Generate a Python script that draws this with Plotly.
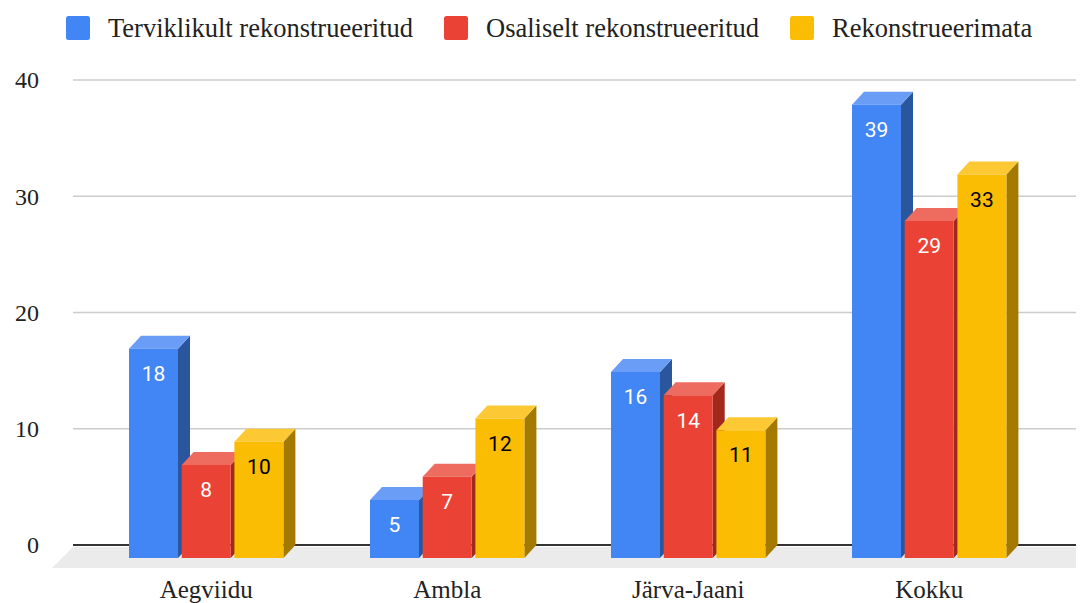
import plotly.graph_objects as go

# ---------------- data ----------------
categories = ["Aegviidu", "Ambla", "Järva-Jaani", "Kokku"]
series_names = ["Terviklikult rekonstrueeritud", "Osaliselt rekonstrueeritud", "Rekonstrueerimata"]
terviklikult = [18, 5, 16, 39]
osaliselt = [8, 7, 14, 29]
rekonstrueerimata = [10, 12, 11, 33]
y_tick_values = [0, 10, 20, 30, 40]
y_tick_labels = ["0", "10", "20", "30", "40"]

series_values = [terviklikult, osaliselt, rekonstrueerimata]

# ---------------- style ----------------
front_colors = ["#4285F4", "#EA4335", "#FBBC04"]
top_colors = ["#6A9EF6", "#EE6B5F", "#FCC834"]
side_colors = ["#2A569E", "#A3281C", "#A37900"]
label_colors = ["#FFFFFF", "#FFFFFF", "#000000"]

PAGE_OFF = 8                      # body margin of the html page
W, H = 1084 - PAGE_OFF, 603 - PAGE_OFF
# plot area in screen pixels
PL_S, PT_S, PB_S = 52, 60, 570
L = PL_S - PAGE_OFF
T = PT_S - PAGE_OFF
B = H - (PB_S - PAGE_OFF)
R = 0
plot_w = W - L - R
plot_h = H - T - B

PX_PER_CAT = 241.0
PX_PER_UNIT = 11.625
X0_PX = 206.2   # screen x of first category (front group centre)
Y0_PX = 545.0   # screen y of value 0 on the back plane

xmin = (PL_S - X0_PX) / PX_PER_CAT
xmax = xmin + plot_w / PX_PER_CAT
ymin = -(PB_S - Y0_PX) / PX_PER_UNIT
ymax = (Y0_PX - PT_S) / PX_PER_UNIT


def xd(px):
    return (px - X0_PX) / PX_PER_CAT


def yd(py):
    return (Y0_PX - py) / PX_PER_UNIT


def xp(px):
    return (px - PL_S) / plot_w


def yp(py):
    return (PB_S - py) / plot_h


BW = 49 / PX_PER_CAT          # bar width
STEP = 52.7 / PX_PER_CAT      # bar step within a group
DX = 12 / PX_PER_CAT          # depth offset x
DY = 13 / PX_PER_UNIT         # depth offset y
offsets = [-STEP, 0.0, STEP]


def poly(pts):
    return "M " + " L ".join(f"{a},{b}" for a, b in pts) + " Z"


fig = go.Figure()
shapes = []

# floor
shapes.append(dict(type="path", xref="x", yref="y", layer="below",
                   path=poly([(xd(73), yd(547)), (xd(1097), yd(547)),
                              (xd(1076), yd(568)), (xd(52), yd(568))]),
                   fillcolor="#EBEBEB", line=dict(width=0)))
# gridlines on back plane
for v in y_tick_values:
    shapes.append(dict(type="line", xref="x", yref="y", layer="below",
                       x0=xd(73), x1=xmax + 1, y0=v, y1=v,
                       line=dict(color="#333333" if v == 0 else "#CCCCCC",
                                 width=2 if v == 0 else 1.5)))

# 3D faces (side + top) per bar, in drawing order
for i in range(len(categories)):
    for j in range(3):
        v = series_values[j][i]
        xl = i + offsets[j] - BW / 2
        xr = i + offsets[j] + BW / 2
        b = -DY
        t = v - DY
        shapes.append(dict(type="path", xref="x", yref="y", layer="between",
                           path=poly([(xr, b), (xr + DX, b + DY), (xr + DX, t + DY), (xr, t)]),
                           fillcolor=side_colors[j], line=dict(width=0)))
        shapes.append(dict(type="path", xref="x", yref="y", layer="between",
                           path=poly([(xl, t), (xl + DX, t + DY), (xr + DX, t + DY), (xr, t)]),
                           fillcolor=top_colors[j], line=dict(width=0)))

# front faces as bars
for j in range(3):
    xs = [i + offsets[j] for i in range(len(categories))]
    fig.add_trace(go.Bar(x=xs, y=series_values[j], base=[-DY] * len(categories),
                         width=BW, name=series_names[j],
                         marker=dict(color=front_colors[j], line=dict(width=0)),
                         showlegend=False, hoverinfo="skip"))

# value labels
for j in range(3):
    xs = [i + offsets[j] for i in range(len(categories))]
    ys = [v - DY - 27.0 / PX_PER_UNIT for v in series_values[j]]
    fig.add_trace(go.Scatter(x=xs, y=ys, mode="text",
                             text=[str(v) for v in series_values[j]],
                             textfont=dict(family="Roboto", size=21, color=label_colors[j]),
                             showlegend=False, hoverinfo="skip", cliponaxis=False))

# manual legend
legend_sq_px = [66, 444, 790]
legend_txt_px = [106, 484, 830]
annotations = []
for j in range(3):
    x0, x1 = legend_sq_px[j], legend_sq_px[j] + 24
    y0, y1 = 16, 40
    r = 2.5
    path = (f"M {xp(x0 + r)},{yp(y0)} L {xp(x1 - r)},{yp(y0)} Q {xp(x1)},{yp(y0)} {xp(x1)},{yp(y0 + r)} "
            f"L {xp(x1)},{yp(y1 - r)} Q {xp(x1)},{yp(y1)} {xp(x1 - r)},{yp(y1)} "
            f"L {xp(x0 + r)},{yp(y1)} Q {xp(x0)},{yp(y1)} {xp(x0)},{yp(y1 - r)} "
            f"L {xp(x0)},{yp(y0 + r)} Q {xp(x0)},{yp(y0)} {xp(x0 + r)},{yp(y0)} Z")
    shapes.append(dict(type="path", xref="paper", yref="paper", path=path,
                       fillcolor=front_colors[j], line=dict(width=0)))
    annotations.append(dict(xref="paper", yref="paper", x=xp(legend_txt_px[j]), y=yp(28),
                            xanchor="left", yanchor="middle", showarrow=False,
                            text=series_names[j],
                            font=dict(family="Liberation Serif", size=26.5, color="#222222")))

fig.update_layout(
    width=W, height=H,
    margin=dict(l=L, r=R, t=T, b=B, autoexpand=False),
    paper_bgcolor="white", plot_bgcolor="white",
    barmode="overlay",
    shapes=shapes, annotations=annotations,
    showlegend=False,
    xaxis=dict(range=[xmin, xmax], showgrid=False, zeroline=False, showline=False,
               automargin=False,
               tickmode="array", tickvals=list(range(len(categories))), ticktext=categories,
               ticks="", ticklabelstandoff=2,
               tickfont=dict(family="Liberation Serif", size=25, color="#222222"),
               fixedrange=True),
    yaxis=dict(range=[ymin, ymax], showgrid=False, zeroline=False, showline=False,
               automargin=False,
               tickmode="array", tickvals=y_tick_values, ticktext=y_tick_labels,
               ticks="", ticklabelstandoff=12,
               tickfont=dict(family="Liberation Serif", size=24, color="#222222"),
               fixedrange=True),
)

fig.write_html("out.html")
